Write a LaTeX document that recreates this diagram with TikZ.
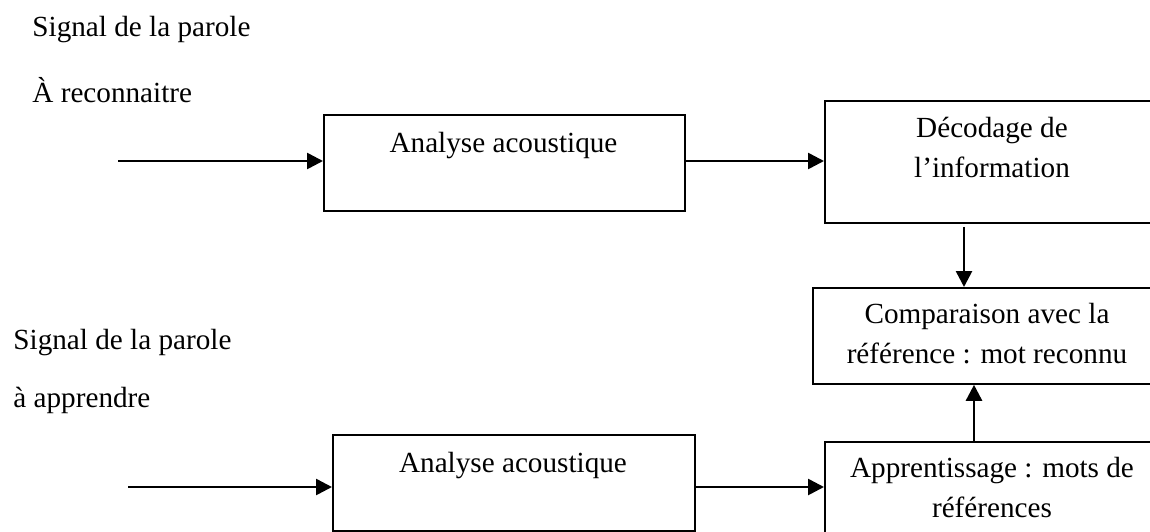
\documentclass[tikz,border=0pt]{standalone}
\usepackage{fontspec}
\setmainfont{Liberation Serif}
\usetikzlibrary{arrows.meta}
\tikzset{
  box/.style={draw,line width=0.9pt,inner sep=0pt,anchor=north west},
  lbl/.style={font=\fontsize{14.6}{20}\selectfont,align=center,inner sep=0pt,anchor=base},
  side/.style={font=\fontsize{14.6}{20}\selectfont,inner sep=0pt,anchor=base west},
  flow/.style={line width=1.3pt,-{Triangle[length=8pt,width=8pt]}},
}
\begin{document}
\begin{tikzpicture}[x=0.5pt,y=-0.5pt]
  \clip (0,0) rectangle (1150,531);
  % boxes
  \node[box,minimum width=180.5pt,minimum height=48pt] (anaA) at (323,114) {};
  \node[box,minimum width=181pt,minimum height=48pt] (anaB) at (332,434) {};
  \node[box,minimum width=173pt,minimum height=61pt] (decod) at (824,100) {};
  \node[box,minimum width=179pt,minimum height=48pt] (compar) at (812,287) {};
  \node[box,minimum width=173pt,minimum height=60pt] (appren) at (824,441) {};
  % texts (base = last line)
  \node[lbl] (tA) at (503.5,152) {Analyse acoustique};
  \node[lbl] (tB) at (513,472) {Analyse acoustique};
  \node[lbl] (tD) at (992,177) {Décodage de\\l’information};
  \node[lbl] (tC) at (987,363) {Comparaison avec la\\référence : mot reconnu};
  \node[lbl] (tP) at (992,517) {Apprentissage : mots de\\références};
  \node[side] (sA1) at (32,36) {Signal de la parole};
  \node[side] (sA2) at (32,102) {À reconnaitre};
  \node[side] (sB1) at (13,349) {Signal de la parole};
  \node[side] (sB2) at (13,407) {à apprendre};
  % connectors
  \coordinate (inA) at (118,161);
  \coordinate (inB) at (128,487);
  \coordinate (dn) at (964,0);
  \coordinate (up) at (974,0);
  \draw[flow] (inA) -- (inA -| anaA.west);
  \draw[flow] (anaA.east |- inA) -- (inA -| decod.west);
  \draw[flow] (inB) -- (inB -| anaB.west);
  \draw[flow] (anaB.east |- inB) -- (inB -| appren.west);
  \draw[flow] ([yshift=-1.5pt]decod.south -| dn) -- (compar.north -| dn);
  \draw[flow] (appren.north -| up) -- (compar.south -| up);
\end{tikzpicture}
\end{document}
